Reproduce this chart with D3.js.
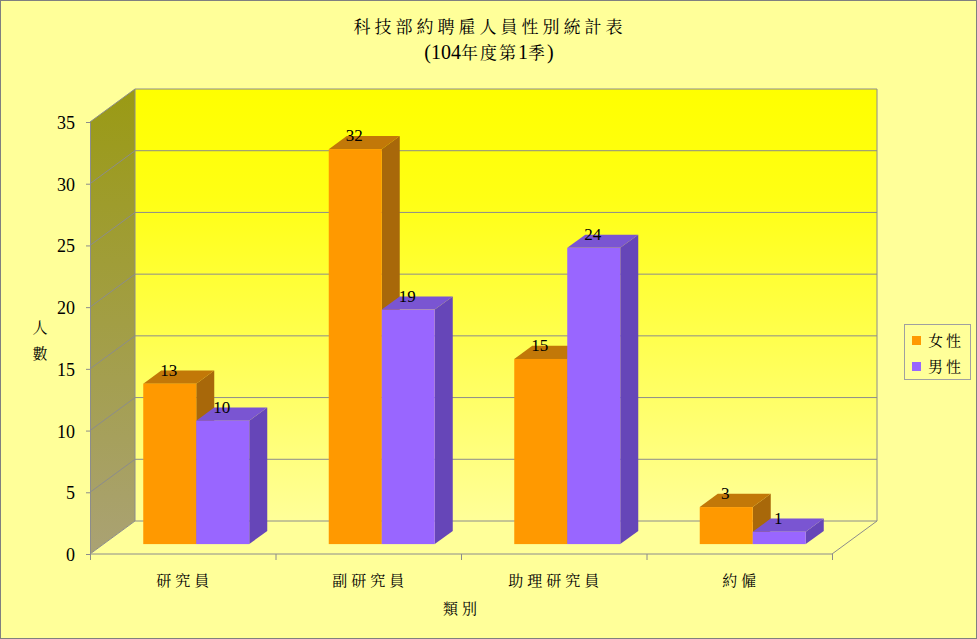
<!DOCTYPE html>
<html><head><meta charset="utf-8">
<script src="https://cdn.jsdelivr.net/npm/d3@7/dist/d3.min.js"></script>
<style>body{margin:0;background:#fff}svg{display:block}</style>
</head><body><svg id="c" width="977" height="639"></svg>
<script>
const titleLine1 = "科技部約聘雇人員性別統計表";
const titleLine2 = [["(104", "n"], ["年度第", "c"], ["1", "n"], ["季", "c"], [")", "n"]];
const categories = ["研究員", "副研究員", "助理研究員", "約僱"];
const seriesNames = ["女性", "男性"];
const female = [13, 32, 15, 3];
const male = [10, 19, 24, 1];
const yTicks = [0, 5, 10, 15, 20, 25, 30, 35];
const xTitle = "類別";
const yTitle = ["人", "數"];

const colors = [
  {front: "#FF9900", top: "#C27808", side: "#A8680A"},
  {front: "#9966FF", top: "#7A55D2", side: "#6646B8"}
];
const series = [female, male];

const svg = d3.select("#c");
const W = 977, H = 639;
const SERIF = '"Liberation Serif"';
const CJK = '"Noto Serif CJK TC"';

// plot geometry
const x0 = 90, x1 = 832, yBottom = 554, yTop = 122;
const DX = 45, DY = -33;           // depth offset of walls
const barF = 0.3, barB = 0.7;      // bar depth fraction

const y = d3.scaleLinear().domain([0, 35]).range([yBottom, yTop]);
const xCat = d3.scaleBand().domain(categories).range([x0, x1]).paddingInner(0).paddingOuter(0);
const xSer = d3.scaleBand().domain(seriesNames).range([0, xCat.bandwidth()]).paddingInner(0).paddingOuter(0.75);

const defs = svg.append("defs");
const gBack = defs.append("linearGradient").attr("id", "gback").attr("x1", 0).attr("y1", 0).attr("x2", 0).attr("y2", 1);
gBack.append("stop").attr("offset", "0").attr("stop-color", "#FFFF00");
gBack.append("stop").attr("offset", "0.25").attr("stop-color", "#FFFF14");
gBack.append("stop").attr("offset", "1").attr("stop-color", "#FFFF99");
const gLeft = defs.append("linearGradient").attr("id", "gleft").attr("x1", 0).attr("y1", 0).attr("x2", 0).attr("y2", 1);
gLeft.append("stop").attr("offset", "0").attr("stop-color", "#9A9A14");
gLeft.append("stop").attr("offset", "1").attr("stop-color", "#AAA274");

// background
svg.append("rect").attr("x", 0.5).attr("y", 0.5).attr("width", W - 1).attr("height", H - 1)
  .attr("fill", "#FFFF99").attr("stroke", "#808080");

const line = d3.line();
const pt = (x, v, f) => [x + DX * f, y(v) + DY * f];

// back wall
svg.append("path").attr("d", line([pt(x0, 0, 1), pt(x1, 0, 1), pt(x1, 35, 1), pt(x0, 35, 1)]) + "Z")
  .attr("fill", "url(#gback)");
// left wall
svg.append("path").attr("d", line([pt(x0, 0, 0), pt(x0, 0, 1), pt(x0, 35, 1), pt(x0, 35, 0)]) + "Z")
  .attr("fill", "url(#gleft)");
// floor
svg.append("path").attr("d", line([pt(x0, 0, 0), pt(x1, 0, 0), pt(x1, 0, 1), pt(x0, 0, 1)]) + "Z")
  .attr("fill", "#FFFF99");

// gridlines
const grid = svg.append("g").attr("stroke", "#8C8C8C").attr("stroke-width", 1).attr("fill", "none");
yTicks.forEach(v => {
  grid.append("path").attr("d", line([pt(x0, v, 0), pt(x0, v, 1), pt(x1, v, 1)]));
});
grid.append("path").attr("d", line([pt(x0, 0, 1), pt(x0, 35, 1)]));
grid.append("path").attr("d", line([pt(x1, 35, 1), pt(x1, 0, 1), pt(x1, 0, 0), pt(x0, 0, 0)]));

// y axis
const yAxis = d3.axisLeft(y).tickValues(yTicks).tickSize(4).tickPadding(11).tickSizeOuter(0);
const ga = svg.append("g").attr("transform", `translate(${x0},0)`).call(yAxis)
  .attr("font-family", null).attr("font-size", null);
ga.select(".domain").attr("stroke", "#8C8C8C");
ga.selectAll(".tick line").attr("stroke", "#8C8C8C");
ga.selectAll(".tick text").style("font-family", SERIF).style("font-size", "18px").attr("fill", "#000").attr("dy", "0.36em");

// x axis ticks
const catEdges = categories.map(c => xCat(c)).concat([x1]);
svg.append("g").selectAll("line").data(catEdges).join("line")
  .attr("x1", d => d + 0.5).attr("x2", d => d + 0.5).attr("y1", yBottom).attr("y2", yBottom + 6)
  .attr("stroke", "#8C8C8C");

// bars
const bars = svg.append("g");
categories.forEach((c, i) => {
  series.forEach((s, j) => {
    const v = s[i];
    const bx = xCat(c) + xSer(seriesNames[j]);
    const bw = xSer.bandwidth();
    const fx = bx + DX * barF, fyB = y(0) + DY * barF, fyT = y(v) + DY * barF;
    const ddx = DX * (barB - barF), ddy = DY * (barB - barF);
    const col = colors[j];
    bars.append("path").attr("d", line([[fx + bw, fyT], [fx + bw + ddx, fyT + ddy], [fx + bw + ddx, fyB + ddy], [fx + bw, fyB]]) + "Z")
      .attr("fill", col.side);
    bars.append("path").attr("d", line([[fx, fyT], [fx + ddx, fyT + ddy], [fx + bw + ddx, fyT + ddy], [fx + bw, fyT]]) + "Z")
      .attr("fill", col.top);
    bars.append("rect").attr("x", fx).attr("y", fyT).attr("width", bw).attr("height", fyB - fyT)
      .attr("fill", col.front);
  });
});
// value labels
categories.forEach((c, i) => {
  series.forEach((s, j) => {
    const v = s[i];
    const bx = xCat(c) + xSer(seriesNames[j]) + DX * barF + xSer.bandwidth() / 2 - 1;
    svg.append("text").attr("x", bx).attr("y", y(v) + DY * barF - 8)
      .attr("text-anchor", "middle").style("font-family", SERIF).style("font-size", "17px")
      .attr("fill", "#000").text(v);
  });
});

// category labels
svg.append("g").selectAll("text").data(categories).join("text")
  .attr("x", d => xCat(d) + xCat.bandwidth() / 2 + 2)
  .attr("y", 586).attr("text-anchor", "middle")
  .style("font-family", CJK).style("font-size", "15px").attr("letter-spacing", 4)
  .attr("fill", "#000").text(d => d);

// axis titles
svg.append("text").attr("x", 462).attr("y", 614).attr("text-anchor", "middle")
  .style("font-family", CJK).style("font-size", "15px").attr("letter-spacing", 4).attr("fill", "#000").text(xTitle);
yTitle.forEach((t, i) => {
  svg.append("text").attr("x", 40).attr("y", 333 + i * 26).attr("text-anchor", "middle")
    .style("font-family", CJK).style("font-size", "15px").attr("fill", "#000").text(t);
});

// title
svg.append("text").attr("x", 490).attr("y", 33).attr("text-anchor", "middle")
  .style("font-family", CJK).style("font-size", "17px")
  .attr("letter-spacing", 4).attr("fill", "#000").text(titleLine1);
const t2 = svg.append("text").attr("x", 489).attr("y", 59).attr("text-anchor", "middle")
  .style("font-size", "19px").attr("fill", "#000");
titleLine2.forEach(([s, k]) => {
  t2.append("tspan").style("font-family", k === "n" ? SERIF : CJK)
    .style("font-size", k === "n" ? "20px" : "17px").attr("letter-spacing", k === "n" ? 0 : 2).text(s);
});

// legend
const lg = svg.append("g");
lg.append("rect").attr("x", 904.5).attr("y", 324.5).attr("width", 66).attr("height", 55)
  .attr("fill", "#FFFF99").attr("stroke", "#A0A0A0");
seriesNames.forEach((n, j) => {
  lg.append("rect").attr("x", 912).attr("y", 336 + j * 26).attr("width", 9).attr("height", 9).attr("fill", colors[j].front);
  lg.append("text").attr("x", 928).attr("y", 346 + j * 26).style("font-family", CJK).style("font-size", "15px")
    .attr("letter-spacing", 3).attr("fill", "#000").text(n);
});
</script></body></html>
